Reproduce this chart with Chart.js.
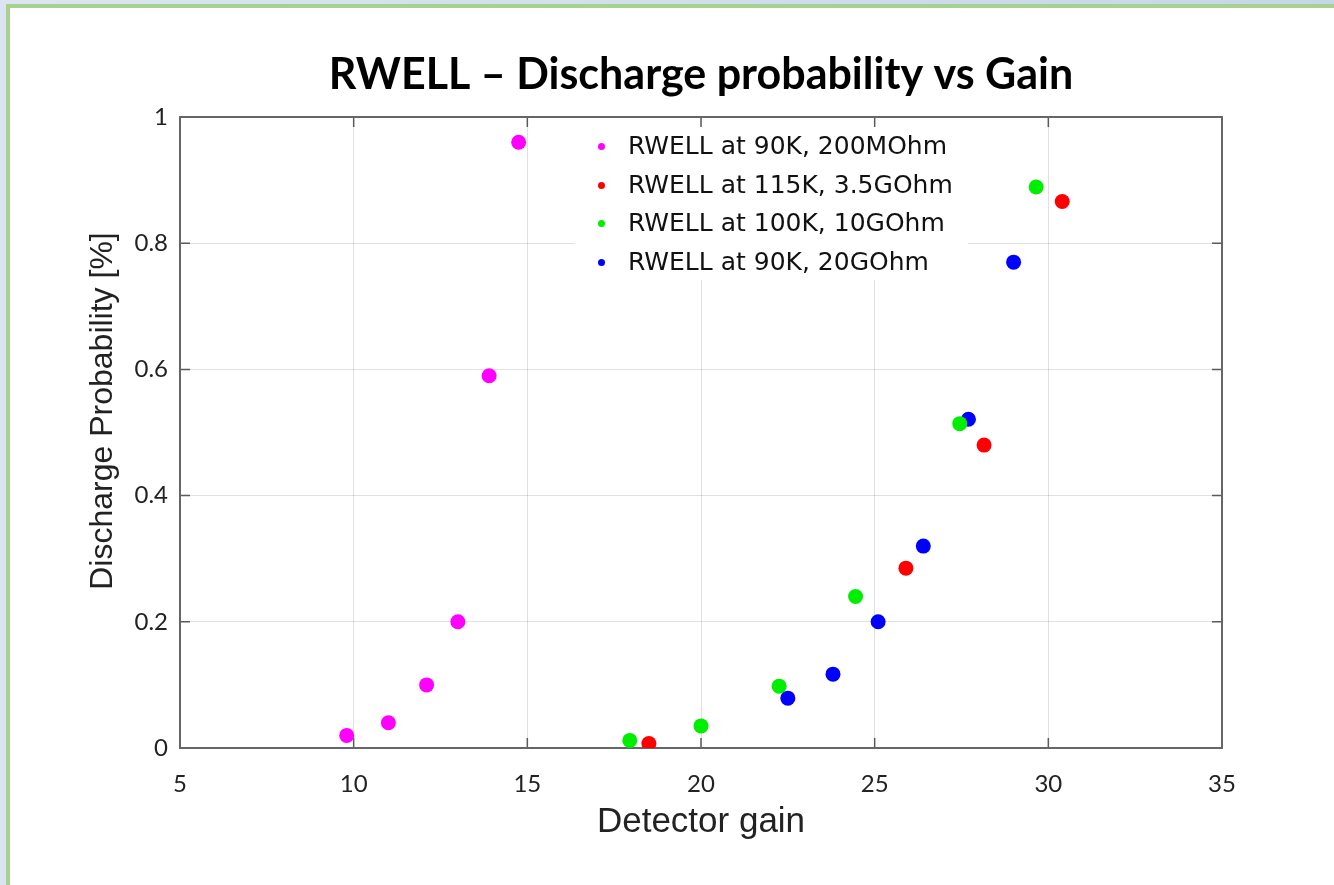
<!DOCTYPE html>
<html>
<head>
<meta charset="utf-8">
<title>RWELL – Discharge probability vs Gain</title>
<script src="https://cdn.jsdelivr.net/npm/chart.js@4.4.1/dist/chart.umd.min.js"></script>
<style>
  html, body { margin: 0; padding: 0; }
  body {
    width: 1334px;
    height: 885px;
    overflow: hidden;
    background: linear-gradient(90deg, #dbe5f1 0%, #c6d6ea 100%);
    position: relative;
  }
  .slide {
    position: absolute;
    left: 6px;
    top: 4px;
    right: 0;
    bottom: 0;
    background: #fff;
    border-left: 4px solid #a9d18e;
    border-top: 4px solid #a9d18e;
  }
  #chart {
    position: absolute;
    left: 0;
    top: 0;
  }
  #legend {
    position: absolute;
    left: 575px;
    top: 127px;
    width: 393px;
    height: 153px;
    background: #fff;
    font-family: 'DejaVu Sans', 'Liberation Sans', sans-serif;
    font-size: 25px;
    color: #111;
  }
  #legend .row {
    position: relative;
    height: 38.7px;
    line-height: 38.7px;
    padding-left: 53px;
    white-space: nowrap;
  }
  #legend .dot {
    position: absolute;
    left: 23px;
    top: 16px;
    width: 7px;
    height: 7px;
    border-radius: 50%;
  }
</style>
</head>
<body>
<div class="slide"></div>
<canvas id="chart" width="1334" height="885"></canvas>
<div id="legend"></div>
<script>
const seriesLabels = [
  'RWELL at 90K, 200MOhm',
  'RWELL at 115K, 3.5GOhm',
  'RWELL at 100K, 10GOhm',
  'RWELL at 90K, 20GOhm',
];
const seriesColors = ['#ff00ff', '#ff0000', '#00ee00', '#0000ff'];

// gain / discharge probability
const magentaX = [9.8, 11.0, 12.1, 13.0, 13.9, 14.75];
const magentaY = [0.02, 0.04, 0.1, 0.2, 0.59, 0.96];
const redX = [18.5, 25.9, 28.15, 30.4];
const redY = [0.007, 0.285, 0.48, 0.866];
const greenX = [17.95, 20.0, 22.25, 24.45, 27.45, 29.65];
const greenY = [0.012, 0.035, 0.098, 0.24, 0.514, 0.889];
const blueX = [22.5, 23.8, 25.1, 26.4, 27.7, 29.0];
const blueY = [0.079, 0.117, 0.2, 0.32, 0.521, 0.77];

const xTicks = [5, 10, 15, 20, 25, 30, 35];
const yTicks = [0, 0.2, 0.4, 0.6, 0.8, 1];
const yTickLabels = ['0', '0.2', '0.4', '0.6', '0.8', '1'];
const yTitle = 'Discharge Probability [%]';

const toPoints = (xs, ys) => xs.map((x, i) => ({ x: x, y: ys[i] }));

const seriesPoints = [
  toPoints(magentaX, magentaY),
  toPoints(redX, redY),
  toPoints(greenX, greenY),
  toPoints(blueX, blueY),
];

const tickFont = { family: 'Lato', size: 24 };

// box around the plot with inward ticks, like the original figure
const frame = {
  id: 'frame',
  beforeDatasetsDraw(chart) {
    const { ctx, chartArea: a, scales } = chart;
    const len = 10;
    ctx.save();
    ctx.strokeStyle = '#5a5a5a';
    ctx.lineWidth = 1.5;
    ctx.beginPath();
    xTicks.forEach((v) => {
      const px = scales.x.getPixelForValue(v);
      ctx.moveTo(px, a.bottom);
      ctx.lineTo(px, a.bottom - len);
      ctx.moveTo(px, a.top);
      ctx.lineTo(px, a.top + len);
    });
    yTicks.forEach((v) => {
      const py = scales.y.getPixelForValue(v);
      ctx.moveTo(a.left, py);
      ctx.lineTo(a.left + len, py);
      ctx.moveTo(a.right, py);
      ctx.lineTo(a.right - len, py);
    });
    ctx.stroke();
    ctx.lineWidth = 2;
    ctx.strokeStyle = '#666';
    ctx.strokeRect(a.left, a.top, a.right - a.left, a.bottom - a.top);

    // y title sits a bit above the middle of the axis in the original
    ctx.translate(103, 411);
    ctx.rotate(-Math.PI / 2);
    ctx.fillStyle = '#222';
    ctx.font = '32px "Liberation Sans"';
    ctx.textAlign = 'center';
    ctx.textBaseline = 'middle';
    ctx.fillText(yTitle, 0, 0);
    ctx.restore();
  },
};

const chart = new Chart(document.getElementById('chart'), {
  type: 'scatter',
  data: {
    datasets: seriesLabels.map((label, i) => ({
      label: label,
      data: seriesPoints[i],
      backgroundColor: seriesColors[i],
      borderWidth: 0,
      pointRadius: 7.5,
      pointHoverRadius: 7.5,
    })),
  },
  options: {
    responsive: false,
    animation: false,
    layout: {
      padding: { left: 10, right: 112, top: 20, bottom: 0 },
    },
    plugins: {
      legend: { display: false },
      tooltip: { enabled: false },
      title: {
        display: true,
        fullSize: false,
        text: 'RWELL – Discharge probability vs Gain',
        color: '#000',
        font: { family: 'Lato', weight: 'bold', size: 43 },
        padding: { top: 29.2, bottom: 16.2 },
      },
    },
    scales: {
      x: {
        type: 'linear',
        min: 5,
        max: 35,
        afterBuildTicks: (scale) => {
          scale.ticks = xTicks.map((v) => ({ value: v }));
        },
        afterFit: (scale) => {
          scale.height = 137;
        },
        ticks: {
          color: '#222',
          font: tickFont,
          padding: 22,
          maxRotation: 0,
        },
        grid: { color: 'rgba(0,0,0,0.12)', drawTicks: false, z: -1 },
        border: { display: false },
        title: {
          display: true,
          text: 'Detector gain',
          color: '#222',
          font: { family: 'Liberation Sans', size: 35 },
          padding: { top: 0, bottom: 42 },
        },
      },
      y: {
        type: 'linear',
        min: 0,
        max: 1,
        afterBuildTicks: (scale) => {
          scale.ticks = yTicks.map((v) => ({ value: v }));
        },
        afterFit: (scale) => {
          scale.width = 170;
        },
        ticks: {
          color: '#222',
          font: tickFont,
          padding: 12,
          callback: (value, index) => yTickLabels[index],
        },
        grid: { color: 'rgba(0,0,0,0.12)', drawTicks: false, z: -1 },
        border: { display: false },
      },
    },
  },
  plugins: [frame],
});

// legend drawn as html so it can sit inside the plot with a white box
const legendEl = document.getElementById('legend');
legendEl.innerHTML = chart.data.datasets
  .map(
    (ds) => `
    <div class="row"><span class="dot" style="background:${ds.backgroundColor}"></span>${ds.label}</div>`
  )
  .join('');
</script>
</body>
</html>
